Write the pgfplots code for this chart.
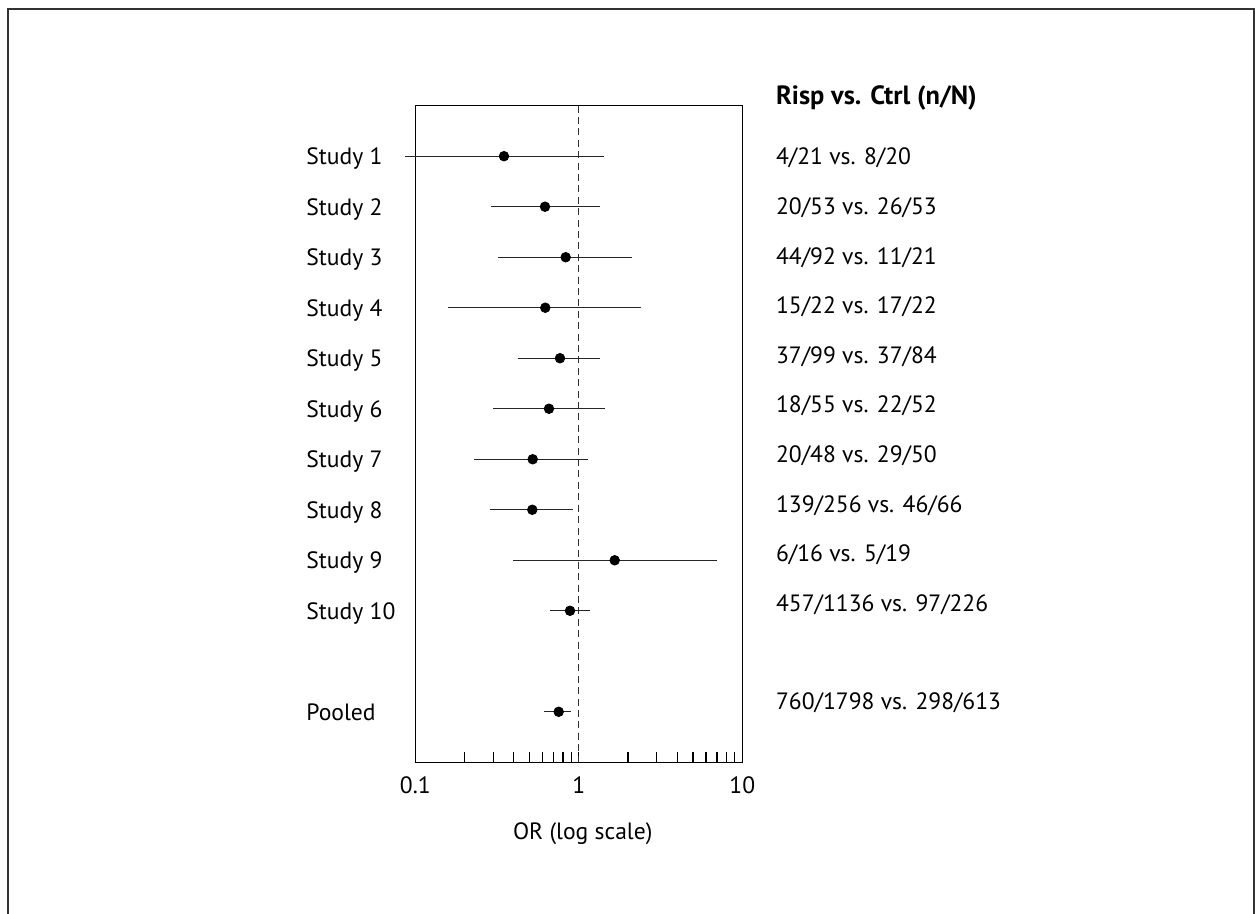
\documentclass[border=0pt]{standalone}
\usepackage{pgfplots}
\pgfplotsset{compat=1.18}
\usepackage{fontspec}
\setmainfont{PT Sans}
\begin{document}
\begin{tikzpicture}
\useasboundingbox (-207.65pt,-75.85pt) rectangle (419.85pt,381.15pt);
\draw[line width=1pt,black!80] (-203.5pt,-90pt) -- (-203.5pt,376.65pt) -- (419.2pt,376.65pt) -- (419.2pt,-90pt);
\begin{axis}[
  at={(0,0)}, anchor=south west,
  scale only axis, width=163.5pt, height=328.3pt,
  xmode=log, xmin=0.1, xmax=10,
  ymin=0, ymax=13, y dir=reverse,
  ytick=\empty,
  xtick={0.1,1,10}, xticklabels={0.1,1,10},
  minor xtick={0.2,0.3,0.4,0.5,0.6,0.7,0.8,0.9,2,3,4,5,6,7,8,9},
  xtick pos=bottom, tick align=inside,
  major tick length=5pt, minor tick length=5pt,
  every tick/.style={black, line width=0.6pt},
  axis line style={black, line width=0.6pt},
  xticklabel style={font=\fontsize{11.8}{13}\selectfont, anchor=base, yshift=-15.5pt},
  xlabel={OR (log scale)},
  xlabel style={font=\fontsize{11.8}{13}\selectfont, at={(rel axis cs:0.5,0)}, anchor=base, yshift=-38.5pt, xshift=2pt},
  clip=false,
  unbounded coords=jump,
]
\addplot[black!80, dash pattern=on 3.5pt off 2.2pt, line width=0.65pt] coordinates {(1,0) (1,13)};
\addplot[black!85, line width=0.65pt, mark=none] table {
x y
0.0869 1
1.420 1
nan nan
0.2904 2
1.348 2
nan nan
0.3205 3
2.106 3
nan nan
0.1591 4
2.391 4
nan nan
0.4229 5
1.342 5
nan nan
0.2986 6
1.440 6
nan nan
0.2286 7
1.143 7
nan nan
0.2863 8
0.9177 8
nan nan
0.3975 9
6.972 9
nan nan
0.6667 10
1.176 10
nan nan
0.6127 12
0.892 12
};
\addplot[only marks, mark=*, mark size=2.4pt, black] table {
x y
0.3487 1
0.6214 2
0.8316 3
0.6239 4
0.7674 5
0.6573 6
0.5224 7
0.5195 8
1.658 9
0.8835 10
0.7535 12
};
\end{axis}
\begin{scope}[font=\fontsize{11.8}{13}\selectfont]
\foreach \lab [count=\i] in {Study 1,Study 2,Study 3,Study 4,Study 5,Study 6,Study 7,Study 8,Study 9,Study 10}{
  \node[anchor=base west, inner sep=0pt] at (-54.65pt, {298.65pt-(\i-1)*25.25pt}) {\lab};
}
\node[anchor=base west, inner sep=0pt] at (-54.65pt, 20.9pt) {Pooled};
\node[anchor=base west, inner sep=0pt, font=\fontsize{13.2}{15}\selectfont\bfseries] at (180.2pt, 328.65pt) {Risp vs. Ctrl (n/N)};
\foreach \lab [count=\i] in {4/21 vs. 8/20,20/53 vs. 26/53,44/92 vs. 11/21,15/22 vs. 17/22,37/99 vs. 37/84,18/55 vs. 22/52,20/48 vs. 29/50,139/256 vs. 46/66,6/16 vs. 5/19,457/1136 vs. 97/226}{
  \node[anchor=base west, inner sep=0pt] at (180.2pt, {298.65pt-(\i-1)*24.8pt}) {\lab};
}
\node[anchor=base west, inner sep=0pt] at (180.2pt, 26.15pt) {760/1798 vs. 298/613};
\end{scope}
\end{tikzpicture}
\end{document}
